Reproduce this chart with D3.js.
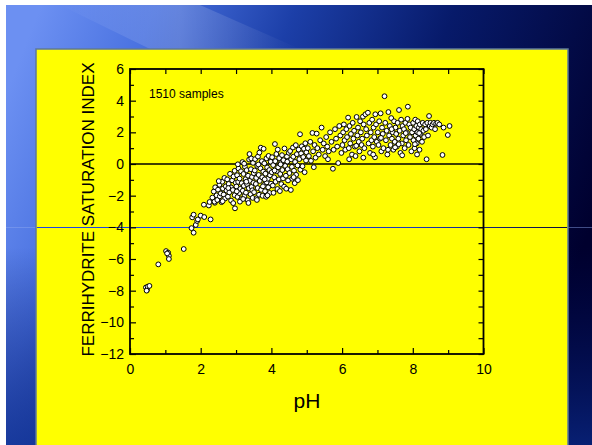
<!DOCTYPE html>
<html>
<head>
<meta charset="utf-8">
<script src="https://cdn.jsdelivr.net/npm/d3@7"></script>
<style>
  html, body { margin: 0; padding: 0; background: #fff; }
  svg { display: block; font-family: "Liberation Sans", Arial, sans-serif; }
</style>
</head>
<body>
<div class="canvas"></div>
<script>
// ---- data: [pH, saturation index] ----
const lowPh = [
  [0.45,-7.8],[0.48,-7.95],[0.5,-7.75],[0.55,-7.7],[0.47,-8.0],
  [0.8,-6.34],
  [1.02,-5.5],[1.08,-5.6],[1.1,-5.8],[1.1,-6.0],[1.05,-5.65],
  [1.52,-5.37],
  [1.74,-4.05],[1.8,-4.34],[1.76,-3.37],[1.8,-3.2],
  [1.86,-3.85],[1.9,-3.6],[1.92,-3.5],[2.0,-3.26],[2.1,-3.35],[2.28,-3.5],
  [2.09,-2.57],[2.23,-2.62],[2.25,-2.4],[2.4,-2.45],[2.97,-2.8]
];
const midPh = [
  [2.33,-2.12],[2.37,-1.74],[2.39,-2.38],[2.41,-1.47],[2.45,-1.98],[2.47,-2.27],[2.49,-1.62],[2.53,-1.31],
  [2.54,-2.04],[2.57,-1.86],[2.59,-2.41],[2.61,-1.12],[2.63,-1.55],[2.65,-1.93],[2.67,-0.88],[2.69,-2.18],
  [2.71,-1.41],[2.73,-1.68],[2.75,-0.97],[2.77,-2.06],[2.79,-1.26],[2.81,-1.79],[2.83,-0.62],[2.86,-1.48],
  [2.86,-2.31],[2.89,-1.03],[2.91,-1.64],[2.93,-0.79],[2.96,-1.97],[2.99,-1.18],[2.62,-2.35],[2.92,-2.47],
  [2.51,-1.08],[2.78,-1.52],[2.96,-0.43],
  [3.01,-1.42],[3.03,-0.71],[3.04,-2.08],[3.06,-1.13],[3.07,-0.28],[3.09,-1.84],[3.1,-0.92],[3.12,-1.57],
  [3.14,-0.46],[3.15,-2.22],[3.16,-1.21],[3.18,0.12],[3.19,-1.69],[3.21,-0.63],[3.22,-1.38],[3.24,-2.02],
  [3.25,-0.17],[3.27,-0.96],[3.28,-1.81],[3.3,-0.39],[3.31,-1.27],[3.33,-2.29],[3.34,-0.74],[3.36,-1.53],
  [3.37,0.28],[3.38,0.63],[3.39,-1.06],[3.41,-1.91],[3.42,-0.33],[3.44,-1.44],[3.45,-0.82],[3.47,-2.14],
  [3.48,0.07],[3.49,-1.19],[3.5,-0.58],[3.11,-2.38],[3.23,0.02],[3.35,-2.46],[3.46,-1.66],[3.05,-0.02],
  [3.29,-1.12],[3.43,0.35],[3.2,-2.21],[3.02,-1.73],
  [3.51,-1.78],[3.53,-0.41],[3.54,0.31],[3.56,-1.26],[3.57,-0.88],[3.58,-2.16],[3.6,-0.12],[3.61,-1.52],
  [3.62,0.47],[3.64,-0.69],[3.65,-1.94],[3.66,0.72],[3.67,-1.07],[3.69,-0.27],[3.7,1.03],[3.71,-1.63],
  [3.73,0.18],[3.74,-0.84],[3.75,-2.01],[3.77,-0.48],[3.78,0.96],[3.79,-1.32],[3.8,0.04],[3.82,-1.72],
  [3.83,-0.61],[3.85,-2.07],[3.86,0.36],[3.87,-1.16],[3.88,-0.22],[3.9,-0.93],[3.91,-1.47],[3.92,0.51],
  [3.94,-0.38],[3.95,-1.83],[3.96,-0.71],[3.98,0.14],[3.99,-1.24],[3.59,-2.27],[3.76,-1.41],[3.89,-1.98],
  [3.63,-0.03],[3.81,-0.97],
  [4.01,-0.52],[4.02,0.43],[4.04,-1.36],[4.05,-0.07],[4.06,-1.82],[4.08,-0.84],[4.1,1.26],[4.11,0.18],
  [4.12,-1.12],[4.14,0.63],[4.15,-0.46],[4.17,-1.58],[4.18,0.91],[4.19,-0.21],[4.21,-0.97],[4.22,0.37],
  [4.24,-1.71],[4.25,-0.63],[4.27,0.08],[4.28,-1.27],[4.3,0.56],[4.31,-0.38],[4.33,-0.91],[4.34,0.24],
  [4.36,-1.43],[4.37,0.98],[4.39,-0.12],[4.41,-0.74],[4.42,-1.56],[4.44,0.47],[4.46,-0.33],[4.47,-1.04],
  [4.49,0.71],[4.09,-0.41],[4.26,-0.02],[4.45,0.15],
  [4.51,-0.57],[4.53,0.82],[4.55,-1.64],[4.56,0.29],[4.58,-0.18],[4.59,-0.93],[4.61,1.04],[4.62,0.46],
  [4.64,-0.42],[4.66,-1.21],[4.67,0.13],[4.69,1.19],[4.7,-0.68],[4.72,0.62],[4.74,-0.09],[4.75,-1.02],
  [4.77,0.91],[4.79,0.31],[4.81,1.88],[4.82,-0.36],[4.84,0.67],[4.86,1.12],[4.88,-0.14],[4.9,0.44],
  [4.92,0.96],[4.94,-0.52],[4.96,1.31],[4.98,0.22],[4.99,0.74],[4.63,-0.83]
];
const highPh = [
  [5.03,1.0],[5.06,0.5],[5.1,1.4],[5.12,0.2],[5.16,1.96],[5.18,0.8],[5.22,1.2],[5.25,0.4],
  [5.28,1.92],[5.3,1.0],[5.34,0.6],[5.38,1.5],[5.42,2.3],[5.45,0.9],[5.48,1.3],[5.52,0.5],
  [5.55,1.7],[5.58,1.1],[5.62,0.8],[5.66,2.0],[5.7,1.4],[5.74,-0.3],[5.76,0.9],[5.8,2.2],
  [5.83,1.6],[5.86,1.1],[5.89,0.06],[5.92,2.4],[5.95,1.8],[5.98,0.7],[5.2,-0.2],[5.6,0.3],
  [6.01,1.2],[6.03,2.0],[6.05,2.5],[6.07,1.5],[6.09,0.9],[6.12,2.2],[6.14,1.7],[6.17,2.93],
  [6.19,1.0],[6.21,2.4],[6.23,1.3],[6.25,1.9],[6.28,0.6],[6.3,2.6],[6.32,1.6],[6.34,2.1],
  [6.36,1.1],[6.38,0.5],[6.41,2.97],[6.43,1.8],[6.45,2.3],[6.47,1.4],[6.49,0.8],[6.51,2.7],
  [6.53,2.0],[6.55,1.2],[6.57,1.6],[6.59,2.99],[6.61,2.5],[6.63,1.0],[6.66,3.14],[6.68,2.2],
  [6.7,1.8],[6.73,3.24],[6.75,1.3],[6.77,2.6],[6.79,0.7],[6.81,2.0],[6.83,1.5],[6.85,2.8],
  [6.87,1.1],[6.89,2.3],[6.91,1.7],[6.93,0.42],[6.94,3.14],[6.96,2.5],[6.98,1.4],[6.2,0.3],
  [6.6,0.4],[6.4,1.15],[6.88,0.6],
  [7.01,2.0],[7.03,1.2],[7.05,2.7],[7.07,1.6],[7.09,3.2],[7.11,0.8],[7.13,2.3],[7.15,1.9],
  [7.17,1.0],[7.2,4.28],[7.22,2.6],[7.24,1.5],[7.26,2.1],[7.28,0.6],[7.31,3.28],[7.33,1.8],
  [7.35,2.4],[7.37,1.2],[7.39,2.9],[7.41,1.6],[7.43,2.0],[7.45,0.9],[7.47,2.7],[7.49,1.4],
  [7.51,2.3],[7.53,1.9],[7.55,1.1],[7.57,2.6],[7.59,1.6],[7.61,3.41],[7.63,2.1],[7.65,0.7],
  [7.67,2.8],[7.69,1.3],[7.71,2.4],[7.73,1.8],[7.75,2.2],[7.77,1.0],[7.79,2.6],[7.81,1.5],
  [7.83,2.0],[7.86,3.62],[7.88,1.2],[7.9,2.5],[7.92,1.7],[7.94,2.3],[7.96,0.8],[7.98,2.0],
  [7.1,1.65],[7.3,0.9],[7.5,1.05],[7.7,0.55],[7.85,2.85],[7.4,2.2],[7.6,1.25],[7.8,1.95],
  [8.01,2.6],[8.02,1.5],[8.04,2.2],[8.05,1.0],[8.07,2.8],[8.08,1.8],[8.1,2.4],[8.11,1.3],
  [8.13,2.0],[8.14,2.7],[8.16,1.6],[8.17,2.3],[8.19,0.9],[8.2,2.5],[8.22,1.9],[8.24,2.2],
  [8.26,1.4],[8.28,2.6],[8.3,2.1],[8.32,1.7],[8.35,2.5],[8.37,2.2],[8.39,0.3],[8.41,2.6],
  [8.43,1.8],[8.46,3.03],[8.48,2.4],[8.5,2.6],[8.53,2.3],[8.56,2.5],[8.6,2.6],[8.63,2.2],
  [8.66,2.55],[8.7,2.6],[8.75,2.5],[8.84,0.57],[8.87,2.3],[8.99,1.83],[9.04,2.4],[8.12,0.6],
  [8.06,1.25],[8.18,1.95]
];
const xMajor = [0, 2, 4, 6, 8, 10];
const xMinor = [1, 3, 5, 7, 9];
const yMajor = [-12, -10, -8, -6, -4, -2, 0, 2, 4, 6];
const yMinor = [-11, -9, -7, -5, -3, -1, 1, 3, 5];
const samples = lowPh.concat(midPh, highPh);

const W = 592, H = 445;
const plot = {left: 130, right: 483.5, top: 69, bottom: 354};

const svg = d3.select(".canvas")
  .append("svg")
  .attr("width", W)
  .attr("height", H);

const defs = svg.append("defs");
const bg = defs.append("linearGradient")
  .attr("id", "bg")
  .attr("x1", 0).attr("y1", 0.2).attr("x2", 1).attr("y2", 0.5);
[[0, "#6c90f2"], [0.18, "#4a72e0"], [0.4, "#1c3fa8"], [0.65, "#071a6a"], [1, "#00002e"]]
  .forEach(s => bg.append("stop").attr("offset", s[0]).attr("stop-color", s[1]));
const shade = defs.append("linearGradient")
  .attr("id", "shade")
  .attr("x1", 0).attr("y1", 0).attr("x2", 0).attr("y2", 1);
[[0, "#001060", 0], [0.55, "#001060", 0], [1, "#0a2a8a", 0.75]]
  .forEach(s => shade.append("stop").attr("offset", s[0]).attr("stop-color", s[1]).attr("stop-opacity", s[2]));
const streak = defs.append("linearGradient")
  .attr("id", "streak")
  .attr("x1", 0).attr("y1", 0).attr("x2", 1).attr("y2", 0);
[[0, "#ffffff", 0], [0.5, "#ffffff", 0.18], [1, "#ffffff", 0]]
  .forEach(s => streak.append("stop").attr("offset", s[0]).attr("stop-color", s[1]).attr("stop-opacity", s[2]));
// horizontal line has a zero-height box, so the gradient must use user space
const lineGrad = defs.append("linearGradient")
  .attr("id", "lineGrad")
  .attr("gradientUnits", "userSpaceOnUse")
  .attr("x1", 37).attr("y1", 0).attr("x2", 567).attr("y2", 0);
[[0, "#1e46e6"], [0.7, "#1b3cc4"], [1, "#0c0c30"]]
  .forEach(s => lineGrad.append("stop").attr("offset", s[0]).attr("stop-color", s[1]));

// slide background
svg.append("rect").attr("width", W).attr("height", H).attr("fill", "#fff");
svg.append("rect").attr("x", 6).attr("y", 5).attr("width", W - 6).attr("height", H - 5).attr("fill", "url(#bg)");
svg.append("rect").attr("x", 6).attr("y", 5).attr("width", W - 6).attr("height", H - 5).attr("fill", "url(#shade)");
svg.append("polygon")
  .attr("points", "60,5 200,5 300,49 150,49")
  .attr("fill", "url(#streak)");

// stray horizontal rule across the slide
svg.append("line")
  .attr("x1", 6).attr("x2", W).attr("y1", 227.5).attr("y2", 227.5)
  .attr("stroke", "#8fa8f0").attr("stroke-opacity", 0.45);

// yellow panel
svg.append("rect")
  .attr("x", 36).attr("y", 49).attr("width", 532).attr("height", H - 49 + 2)
  .attr("fill", "#ffff00")
  .attr("stroke", "#5d7899").attr("stroke-width", 1.5);

svg.append("line")
  .attr("x1", 37).attr("x2", 567).attr("y1", 227.5).attr("y2", 227.5)
  .attr("stroke", "url(#lineGrad)").attr("stroke-width", 1.2);

const x = d3.scaleLinear().domain([0, 10]).range([plot.left, plot.right]);
const y = d3.scaleLinear().domain([-12, 6]).range([plot.bottom, plot.top]);

const g = svg.append("g");

// zero line
g.append("line")
  .attr("x1", x(0)).attr("x2", x(10)).attr("y1", y(0)).attr("y2", y(0))
  .attr("stroke", "#000").attr("stroke-width", 1.5);

// points
g.selectAll("circle.pt")
  .data(samples)
  .enter()
  .append("circle")
  .attr("class", "pt")
  .attr("cx", d => x(d[0]))
  .attr("cy", d => y(d[1]))
  .attr("r", 2.4)
  .attr("fill", "#fff")
  .attr("stroke", "#000")
  .attr("stroke-width", 1);

// axes, ticks pointing inward on all four sides
const styleAxis = sel => {
  sel.select(".domain").remove();
  sel.selectAll(".tick line").attr("stroke", "#000").attr("stroke-width", 1.2);
  sel.selectAll("text").attr("fill", "#000").style("font-size", "14px")
    .style("font-family", "'Liberation Sans', Arial, sans-serif");
};
const addAxis = (axis, tx, ty, labels) => {
  const a = g.append("g").attr("transform", `translate(${tx},${ty})`).call(axis);
  styleAxis(a);
  if (!labels) a.selectAll("text").remove();
  return a;
};

addAxis(d3.axisBottom(x).tickValues(xMajor).tickSize(-6).tickPadding(10), 0, plot.bottom, true);
addAxis(d3.axisBottom(x).tickValues(xMinor).tickSize(-4), 0, plot.bottom, false);
addAxis(d3.axisTop(x).tickValues(xMajor.concat(xMinor)).tickSize(-5), 0, plot.top, false);
addAxis(d3.axisLeft(y).tickValues(yMajor).tickSize(-6).tickPadding(6), plot.left, 0, true);
addAxis(d3.axisLeft(y).tickValues(yMinor).tickSize(-4), plot.left, 0, false);
addAxis(d3.axisRight(y).tickValues(yMajor.concat(yMinor)).tickSize(-5), plot.right, 0, false);

g.append("rect")
  .attr("x", plot.left).attr("y", plot.top)
  .attr("width", plot.right - plot.left).attr("height", plot.bottom - plot.top)
  .attr("fill", "none").attr("stroke", "#000").attr("stroke-width", 1.8);

// labels
g.append("text")
  .attr("x", 149).attr("y", 98)
  .style("font-size", "12px")
  .text("1510 samples");

g.append("text")
  .attr("x", 307).attr("y", 408)
  .attr("text-anchor", "middle")
  .style("font-size", "21px")
  .text("pH");

g.append("text")
  .attr("transform", `translate(94,${(plot.top + plot.bottom) / 2 - 2}) rotate(-90)`)
  .attr("text-anchor", "middle")
  .style("font-size", "17px")
  .text("FERRIHYDRITE SATURATION INDEX");
</script>
</body>
</html>
